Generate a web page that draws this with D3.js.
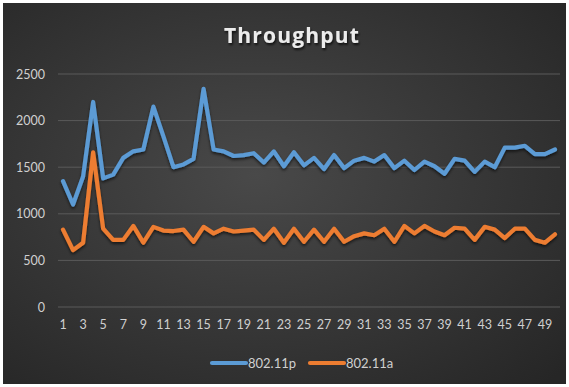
<!DOCTYPE html>
<html>
<head>
<meta charset="utf-8">
<script src="https://cdn.jsdelivr.net/npm/d3@7/dist/d3.min.js"></script>
<style>
  html, body { margin: 0; padding: 0; background: #ffffff; }
  svg { display: block; }
</style>
</head>
<body>
<script>
// Throughput per run for the two radio standards
const runs = d3.range(1, 51);
const seriesNames = ["802.11p", "802.11a"];
const throughput80211p = [
  1350, 1100, 1400, 2200, 1380, 1420, 1600, 1670, 1690, 2150,
  1830, 1500, 1530, 1590, 2340, 1690, 1670, 1620, 1630, 1650,
  1550, 1670, 1510, 1660, 1520, 1600, 1480, 1630, 1490, 1570,
  1600, 1560, 1630, 1490, 1570, 1470, 1560, 1510, 1430, 1590,
  1570, 1450, 1560, 1500, 1710, 1710, 1730, 1640, 1640, 1690
];
const throughput80211a = [
  830, 610, 690, 1660, 840, 720, 720, 870, 690, 860,
  820, 815, 830, 700, 860, 790, 840, 810, 820, 830,
  720, 840, 690, 840, 700, 830, 700, 840, 700, 760,
  790, 770, 840, 700, 870, 790, 870, 810, 770, 850,
  840, 720, 860, 830, 740, 840, 840, 720, 690, 780
];
const yTicks = [0, 500, 1000, 1500, 2000, 2500];
const xTickLabels = runs.filter(d => d % 2 === 1);
const colors = ["#5b9bd5", "#ed7d31"];

const W = 569, H = 387;
const plot = { left: 58, right: 560, top: 74, bottom: 307 };

const svg = d3.select("body").append("svg")
  .attr("width", W).attr("height", H);

const defs = svg.append("defs");
const bg = defs.append("radialGradient").attr("id", "bg")
  .attr("cx", "45%").attr("cy", "45%").attr("r", "75%");
bg.append("stop").attr("offset", "0%").attr("stop-color", "#494949");
bg.append("stop").attr("offset", "100%").attr("stop-color", "#262626");

const shadow = defs.append("filter").attr("id", "shadow")
  .attr("x", "-10%").attr("y", "-10%").attr("width", "120%").attr("height", "130%");
shadow.append("feDropShadow").attr("dx", 0).attr("dy", 2)
  .attr("stdDeviation", 1.6).attr("flood-color", "#000").attr("flood-opacity", 0.6);

const titleShadow = defs.append("filter").attr("id", "tshadow");
titleShadow.append("feDropShadow").attr("dx", 1).attr("dy", 2)
  .attr("stdDeviation", 1).attr("flood-color", "#000").attr("flood-opacity", 0.7);

svg.append("rect").attr("x", 3).attr("y", 3)
  .attr("width", W - 6).attr("height", H - 6).attr("fill", "url(#bg)");

const x = d3.scaleBand().domain(runs).range([plot.left, plot.right]);
const y = d3.scaleLinear().domain([0, 2500]).range([plot.bottom, plot.top]);
const cx = d => x(d) + x.bandwidth() / 2;

// gridlines
svg.append("g")
  .selectAll("line").data(yTicks).join("line")
  .attr("x1", plot.left).attr("x2", plot.right)
  .attr("y1", d => y(d)).attr("y2", d => y(d))
  .attr("stroke", "#5a5a5a").attr("stroke-width", 1);

// y axis labels
const yAxis = svg.append("g")
  .attr("transform", `translate(${plot.left - 13},0)`)
  .call(d3.axisLeft(y).tickValues(yTicks).tickFormat(d3.format("d"))
    .tickSize(0).tickPadding(0));
yAxis.select(".domain").remove();
yAxis.selectAll("text")
  .attr("fill", "#d0d0d0").attr("font-size", 12.5)
  .attr("font-family", "Lato, 'Open Sans', sans-serif");

// x axis labels
const xAxis = svg.append("g")
  .attr("transform", `translate(0,${plot.bottom + 13})`)
  .call(d3.axisBottom(x).tickValues(xTickLabels).tickSize(0).tickPadding(0));
xAxis.select(".domain").remove();
xAxis.selectAll("text")
  .attr("fill", "#d0d0d0").attr("font-size", 12.5)
  .attr("font-family", "Lato, 'Open Sans', sans-serif");

// series lines
const line = d3.line().x((d, i) => cx(runs[i])).y(d => y(d));
[throughput80211p, throughput80211a].forEach((vals, k) => {
  svg.append("path").datum(vals)
    .attr("d", line)
    .attr("fill", "none")
    .attr("stroke", colors[k])
    .attr("stroke-width", 4.2)
    .attr("stroke-linejoin", "round")
    .attr("stroke-linecap", "round")
    .attr("filter", "url(#shadow)");
});

// title
svg.append("text")
  .attr("x", 292).attr("y", 43)
  .attr("text-anchor", "middle")
  .attr("fill", "#ececec")
  .attr("font-size", 21)
  .attr("font-weight", "bold")
  .attr("letter-spacing", 1.2)
  .attr("font-family", "'Open Sans', Lato, sans-serif")
  .attr("filter", "url(#tshadow)")
  .text("Throughput");

// legend
const legendItems = [
  { name: seriesNames[0], color: colors[0], x: 212 },
  { name: seriesNames[1], color: colors[1], x: 310 }
];
const lg = svg.append("g");
legendItems.forEach(it => {
  lg.append("line")
    .attr("x1", it.x).attr("x2", it.x + 34)
    .attr("y1", 363).attr("y2", 363)
    .attr("stroke", it.color).attr("stroke-width", 4.2)
    .attr("stroke-linecap", "round");
  lg.append("text")
    .attr("x", it.x + 36).attr("y", 368)
    .attr("fill", "#d0d0d0").attr("font-size", 13)
    .attr("font-family", "'Liberation Sans Narrow', Lato, sans-serif")
    .text(it.name);
});
</script>
</body>
</html>
